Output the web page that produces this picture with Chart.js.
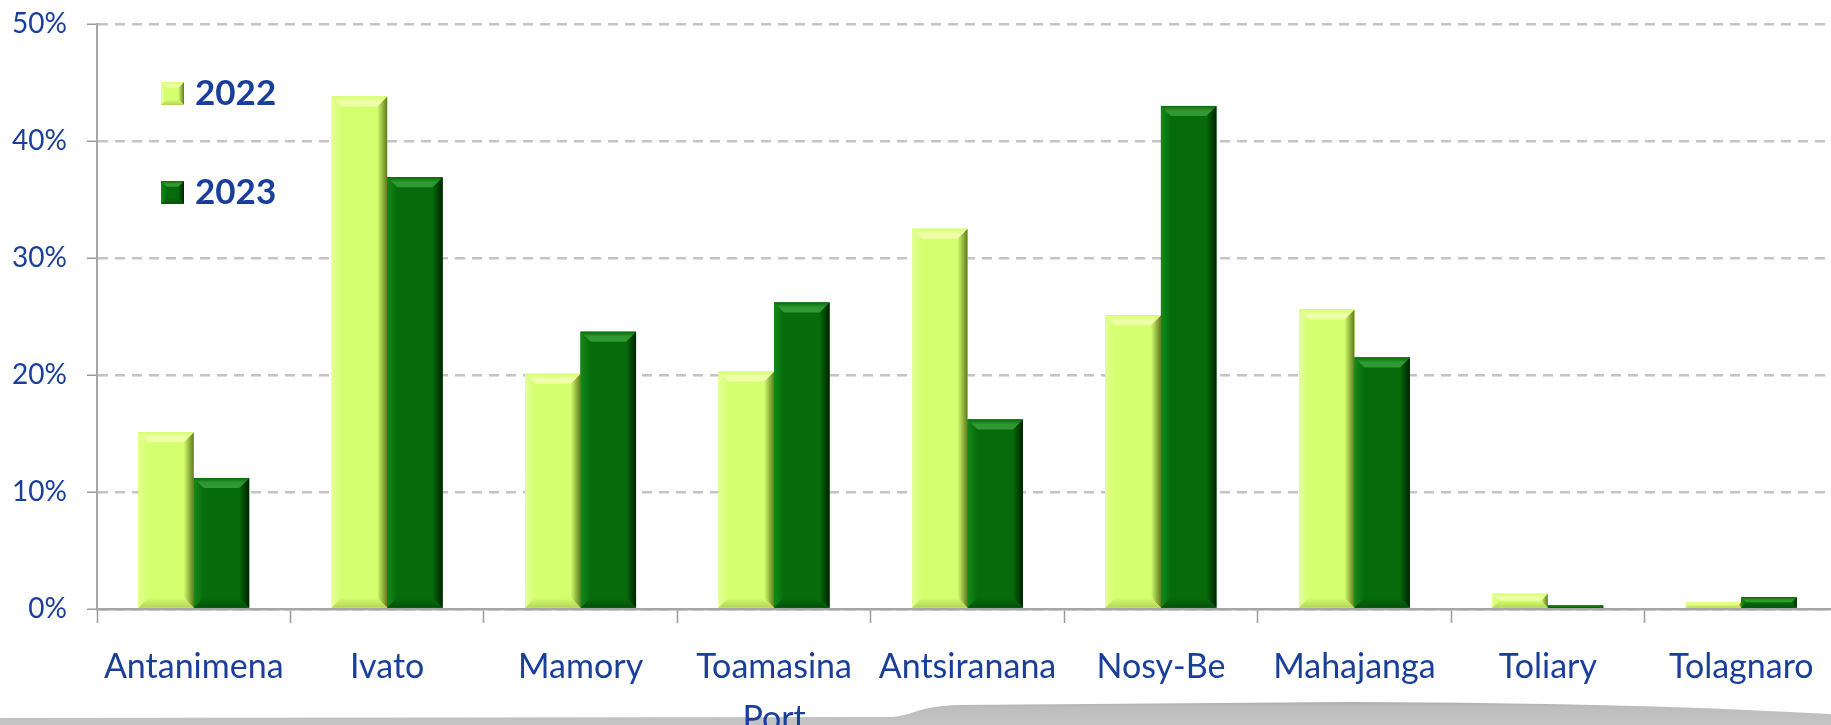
<!DOCTYPE html>
<html>
<head>
<meta charset="utf-8">
<title>2022 / 2023</title>
<script src="https://cdn.jsdelivr.net/npm/chart.js@4.4.1/dist/chart.umd.min.js"></script>
<style>
    html, body { margin: 0; padding: 0; background: #fff; overflow: hidden; }
    #wrap { position: relative; width: 1845px; height: 725px; }
</style>
</head>
<body>
<div id="wrap"><canvas id="bar-chart" width="1845" height="725"></canvas></div>
<script>
(function () {
    "use strict";

    // Data
    var sites = ["Antanimena", "Ivato", "Mamory", ["Toamasina", "Port"], "Antsiranana", "Nosy-Be", "Mahajanga", "Toliary", "Tolagnaro"];
    var share2022 = [15.1, 43.8, 20.1, 20.3, 32.5, 25.1, 25.6, 1.3, 0.6];
    var share2023 = [11.2, 36.9, 23.7, 26.2, 16.2, 43.0, 21.5, 0.3, 1.0];
    var yTicks = [0, 10, 20, 30, 40, 50];

    var blue = "#1a3f9b";
    var light = { face: "#d4ff6e", top: "#efffa8", left: "#e4ff96", right: "#5f7a1c", bottom: "#b4d45a" };
    var dark = { face: "#076b0b", top: "#2f9a31", left: "#148a18", right: "#002200", bottom: "#04530b" };
    var palettes = [light, dark];


    function poly(ctx, fill, pts) {
        ctx.fillStyle = fill;
        ctx.beginPath();
        ctx.moveTo(pts[0][0], pts[0][1]);
        for (var i = 1; i < pts.length; i++) ctx.lineTo(pts[i][0], pts[i][1]);
        ctx.closePath();
        ctx.fill();
    }

    // bevelled box like the office 3D bars
    function bevel(ctx, x0, x1, y0, y1, c, size) {
        var w = x1 - x0, h = y1 - y0;
        if (h <= 0 || w <= 0) return;
        var b = Math.min(size, h / 2, w / 4);
        ctx.save();
        ctx.fillStyle = c.face;
        ctx.fillRect(x0, y0, w, h);
        var gl = ctx.createLinearGradient(x0, 0, x0 + b, 0);
        gl.addColorStop(0, c.left);
        gl.addColorStop(1, c.face);
        poly(ctx, gl, [[x0, y0], [x0 + b, y0 + b], [x0 + b, y1 - b], [x0, y1]]);
        var gr = ctx.createLinearGradient(x1 - b, 0, x1, 0);
        gr.addColorStop(0, c.face);
        gr.addColorStop(1, c.right);
        poly(ctx, gr, [[x1, y0], [x1 - b, y0 + b], [x1 - b, y1 - b], [x1, y1]]);
        var gt = ctx.createLinearGradient(0, y0, 0, y0 + b);
        gt.addColorStop(0, c.face);
        gt.addColorStop(0.5, c.top);
        gt.addColorStop(1, c.top);
        poly(ctx, gt, [[x0, y0], [x1, y0], [x1 - b, y0 + b], [x0 + b, y0 + b]]);
        var gb = ctx.createLinearGradient(0, y1 - b, 0, y1);
        gb.addColorStop(0, c.face);
        gb.addColorStop(1, c.bottom);
        poly(ctx, gb, [[x0, y1], [x1, y1], [x1 - b, y1 - b], [x0 + b, y1 - b]]);
        ctx.restore();
    }

    // gray slide shadow at the bottom
    var shadowBand = {
        id: "shadowBand",
        beforeDraw: function (chart) {
            var ctx = chart.ctx;
            ctx.save();
            var g = ctx.createLinearGradient(0, 700, 0, 725);
            g.addColorStop(0, "#a9a9a9");
            g.addColorStop(0.3, "#bdbdbd");
            g.addColorStop(1, "#c4c4c4");
            ctx.fillStyle = g;
            ctx.beginPath();
            ctx.moveTo(0, 725);
            ctx.lineTo(0, 718);
            ctx.lineTo(890, 717);
            ctx.bezierCurveTo(915, 716, 915, 706, 960, 705);
            ctx.lineTo(1350, 702);
            ctx.quadraticCurveTo(1650, 703, 1845, 715);
            ctx.lineTo(1845, 725);
            ctx.closePath();
            ctx.fill();
            ctx.restore();
        }
    };

    var bevelBars = {
        id: "bevelBars",
        afterDatasetsDraw: function (chart) {
            var ctx = chart.ctx;
            chart.data.datasets.forEach(function (ds, i) {
                chart.getDatasetMeta(i).data.forEach(function (bar) {
                    var x0 = bar.x - bar.width / 2;
                    bevel(ctx, x0, x0 + bar.width, Math.min(bar.y, bar.base), Math.max(bar.y, bar.base), palettes[i], 10);
                });
            });
        }
    };

    // legend sits inside the plot, top left
    var insideLegend = {
        id: "insideLegend",
        afterDraw: function (chart) {
            var ctx = chart.ctx;
            ctx.save();
            chart.data.datasets.forEach(function (ds, i) {
                var cy = 93 + i * 99;
                bevel(ctx, 161, 184, cy - 11, cy + 12, palettes[i], 6);
                ctx.fillStyle = blue;
                ctx.font = "bold 35px Lato";
                ctx.textBaseline = "middle";
                ctx.textAlign = "left";
                ctx.fillText(ds.label, 195, cy + 1);
            });
            ctx.restore();
        }
    };

    var ctx = document.getElementById("bar-chart").getContext("2d");
    var myChart = new Chart(ctx, {
        type: "bar",
        data: {
            labels: sites,
            datasets: [{
                label: "2022",
                data: share2022,
                backgroundColor: light.face
            },
            {
                label: "2023",
                data: share2023,
                backgroundColor: dark.face
            }]
        },
        options: {
            responsive: false,
            animation: false,
            layout: { padding: { top: 24, right: 7, left: 0, bottom: 0 } },
            plugins: {
                legend: { display: false },
                tooltip: { enabled: false }
            },
            datasets: {
                bar: { barPercentage: 1, categoryPercentage: 0.573 }
            },
            scales: {
                x: {
                    afterFit: function (scale) { scale.height = 116; },
                    grid: {
                        offset: true,
                        drawOnChartArea: false,
                        tickLength: 14,
                        tickColor: "#9a9a9a",
                        tickWidth: 1.5
                    },
                    border: { color: "#a6a6a6", width: 2.5 },
                    ticks: {
                        color: blue,
                        padding: 18,
                        maxRotation: 0,
                        autoSkip: false,
                        font: { family: "Lato", size: 34, lineHeight: 1.53 }
                    }
                },
                y: {
                    min: 0,
                    max: 50,
                    afterFit: function (scale) {
                        scale.width = 97;
                        scale.paddingTop = 0;
                        scale.paddingBottom = 0;
                    },
                    afterBuildTicks: function (scale) {
                        scale.ticks = yTicks.map(function (v) { return { value: v }; });
                    },
                    grid: {
                        color: "#c4c4c4",
                        lineWidth: 2.5,
                        tickLength: 10,
                        tickColor: "#9a9a9a",
                        tickWidth: 1.5
                    },
                    border: { color: "#a6a6a6", width: 2, dash: [10, 7] },
                    ticks: {
                        color: blue,
                        padding: 20,
                        font: { family: "Lato", size: 28 },
                        callback: function (v) { return v + "%"; }
                    }
                }
            }
        },
        plugins: [shadowBand, bevelBars, insideLegend]
    });

})();
</script>
</body>
</html>
